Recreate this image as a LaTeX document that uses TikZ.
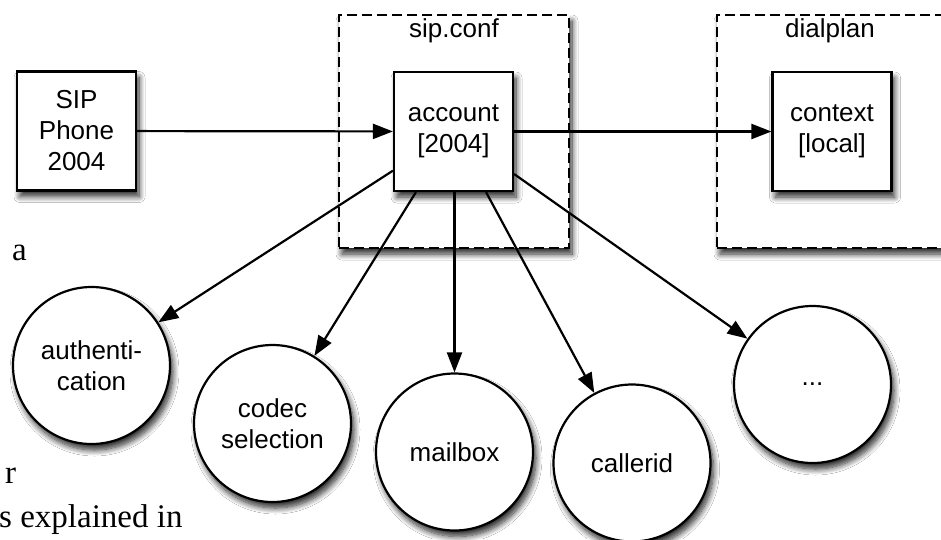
\documentclass[tikz,border=0pt]{standalone}
\usepackage{fontspec}
\setmainfont{Liberation Sans}
\newfontfamily\bookfont{Liberation Serif}
\usetikzlibrary{arrows.meta,shadows.blur}
\begin{document}
\begin{tikzpicture}[x=1pt,y=-1pt,
  lbl/.style={font=\fontsize{26}{31}\selectfont, align=center, inner sep=0pt},
  shad/.style={blur shadow={shadow xshift=3pt, shadow yshift=-6pt, shadow blur radius=6pt, shadow blur steps=10, shadow opacity=85}},
  region/.style={draw, dashed, dash pattern=on 10pt off 5pt, line width=2.2pt, fill=white, shad, inner sep=0pt},
  cfgbox/.style={lbl, draw, line width=2.2pt, fill=white, shad, minimum width=119pt, minimum height=119pt},
  option/.style={lbl, circle, draw, line width=2.2pt, fill=white, shad, minimum size=157pt},
  link/.style={line width=2.2pt, -{Triangle[length=20pt,width=15pt]}},
  booktext/.style={font=\bookfont\fontsize{33}{40}\selectfont, inner sep=0pt, anchor=base west}
]
\clip (0,0) rectangle (941,539);
\fill[white] (0,0) rectangle (941,539);

% regions
\node[region, minimum width=230pt, minimum height=233pt] (sipconf) at (454,131.5) {};
\node[region, minimum width=260pt, minimum height=233pt] (dialplan) at (847,131.5) {};
\node[lbl] (sipconflbl) at (454,31) {sip.conf};
\node[lbl] (dialplanlbl) at (830,31) {dialplan};

% boxes
\node[cfgbox] (phone) at (76.5,131) {SIP\\Phone\\2004};
\node[cfgbox] (account) at (453.5,131.5) {account\\{[2004]}};
\node[cfgbox] (context) at (832,131.5) {context\\{[local]}};

% book text fragments
\node[booktext] (ta) at (12,260) {a};
\node[booktext] (tr) at (5,483) {r};
\node[booktext] (ts) at (-1,527) {s explained in};

% options
\node[option] (auth) at (91.5,365.5) {authenti-\\cation};
\node[option] (codec) at (272.5,423.5) {codec\\selection};
\node[option] (mailbox) at (454.5,452) {mailbox};
\node[option] (callerid) at (632,463) {callerid};
\node[option] (more) at (812.5,384.5) {...};

% connectors
\draw[link] (phone) -- (account);
\draw[link] (account) -- (context);
\draw[link] (account) -- (auth);
\draw[link] (account) -- (codec);
\draw[link] (account.south -| mailbox) -- (mailbox);
\draw[link] (account) -- (callerid);
\draw[link] (account) -- (more);
\end{tikzpicture}
\end{document}
